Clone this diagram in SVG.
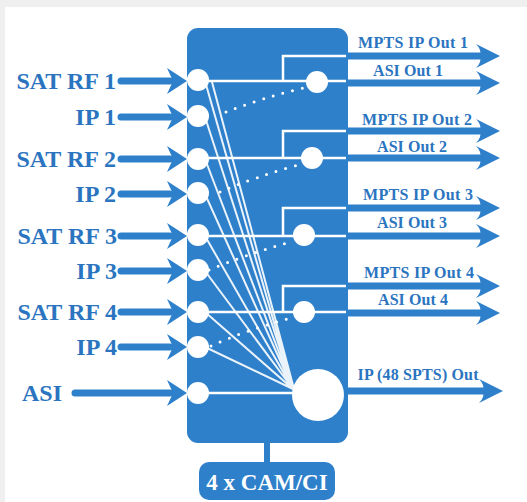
<svg xmlns="http://www.w3.org/2000/svg" width="527" height="502" viewBox="0 0 527 502">
<defs>
<style>
.lbl{font-family:"Liberation Serif","Times New Roman",serif;font-weight:bold;fill:#2b74c0;}
.in{font-size:24px;text-anchor:end;}
.out{font-size:16px;text-anchor:middle;}
.shaft{stroke:#2f80cb;stroke-width:7;stroke-linecap:round;fill:none;}
.head{fill:#2f80cb;}
.wl{stroke:#ffffff;stroke-width:2.5;fill:none;}
.fan{stroke:#ffffff;stroke-width:2;fill:none;opacity:0.9;}
.dot{stroke:#ffffff;stroke-width:3;stroke-linecap:round;stroke-dasharray:0 10;fill:none;}
.c{fill:#ffffff;}
</style>
<path id="ih" d="M0,0 L-20,-13 L-14,0 L-20,13 Z"/>
<path id="oh" d="M0,0 L-24,-12 Q-18,-6 -20,0 Q-18,6 -24,12 Z"/>
</defs>
<rect x="0" y="0" width="527" height="502" fill="#efefef"/>
<rect x="5" y="7" width="522" height="495" fill="#ffffff"/>

<g id="main-box">
<rect x="187" y="28" width="161" height="415" rx="11" fill="#2f80cb"/>
</g>
<g id="cam">
<rect x="264" y="441" width="6" height="23" fill="#2f80cb"/>
<rect x="199" y="462" width="136" height="38" rx="10" fill="#2f80cb"/>
<text x="267" y="490" style="font-family:'Liberation Serif','Times New Roman',serif;font-weight:bold;font-size:23px;fill:#ffffff;text-anchor:middle">4 x CAM/CI</text>
</g>

<g id="connectors">
<!-- inputs -->
<line class="shaft" x1="121" y1="81" x2="170" y2="81"/><use href="#ih" class="head" x="187" y="81"/>
<line class="shaft" x1="121" y1="117" x2="170" y2="117"/><use href="#ih" class="head" x="187" y="117"/>
<line class="shaft" x1="121" y1="159" x2="170" y2="159"/><use href="#ih" class="head" x="187" y="159"/>
<line class="shaft" x1="121" y1="194" x2="170" y2="194"/><use href="#ih" class="head" x="187" y="194"/>
<line class="shaft" x1="121" y1="236" x2="170" y2="236"/><use href="#ih" class="head" x="187" y="236"/>
<line class="shaft" x1="121" y1="271" x2="170" y2="271"/><use href="#ih" class="head" x="187" y="271"/>
<line class="shaft" x1="121" y1="312" x2="170" y2="312"/><use href="#ih" class="head" x="187" y="312"/>
<line class="shaft" x1="121" y1="347" x2="170" y2="347"/><use href="#ih" class="head" x="187" y="347"/>
<line class="shaft" x1="75" y1="393" x2="170" y2="393"/><use href="#ih" class="head" x="187" y="393"/>
<!-- outputs -->
<line class="shaft" x1="348" y1="56" x2="482" y2="56" style="stroke-linecap:butt"/><use href="#oh" class="head" x="500" y="56"/>
<line class="shaft" x1="348" y1="83" x2="482" y2="83" style="stroke-linecap:butt"/><use href="#oh" class="head" x="500" y="83"/>
<line class="shaft" x1="348" y1="131" x2="482" y2="131" style="stroke-linecap:butt"/><use href="#oh" class="head" x="500" y="131"/>
<line class="shaft" x1="348" y1="158" x2="482" y2="158" style="stroke-linecap:butt"/><use href="#oh" class="head" x="500" y="158"/>
<line class="shaft" x1="348" y1="208" x2="482" y2="208" style="stroke-linecap:butt"/><use href="#oh" class="head" x="500" y="208"/>
<line class="shaft" x1="348" y1="236" x2="482" y2="236" style="stroke-linecap:butt"/><use href="#oh" class="head" x="500" y="236"/>
<line class="shaft" x1="348" y1="286" x2="482" y2="286" style="stroke-linecap:butt"/><use href="#oh" class="head" x="500" y="286"/>
<line class="shaft" x1="348" y1="313" x2="482" y2="313" style="stroke-linecap:butt"/><use href="#oh" class="head" x="500" y="313"/>
<line class="shaft" x1="348" y1="391" x2="484" y2="391" style="stroke-linecap:butt"/><use href="#oh" class="head" x="503" y="391"/>

<!-- internal white routing -->
<path class="wl" d="M198,81 H346 M283,81 V56 H346"/>
<path class="wl" d="M198,158 H346 M283,158 V131 H346"/>
<path class="wl" d="M198,236 H346 M283,236 V208 H346"/>
<path class="wl" d="M198,312 H346 M283,312 V286 H346"/>
<path class="wl" d="M198,393 H300"/>
<!-- fan to big circle -->
<path class="fan" d="M205,81 L293,389 M212,82 L294,389 M205,117 L293,389 M205,159 L293,389 M205,194 L293,389 M205,236 L293,389 M205,271 L293,389 M205,312 L293,389 M205,347 L293,389"/>
<!-- dotted -->
<path class="dot" d="M226,112 Q262,98 303,88"/>
<path class="dot" d="M220,192 Q255,177 298,165"/>
<path class="dot" d="M209,270 Q245,255 290,242"/>
<path class="dot" d="M211,346 Q246,330 291,318"/>
</g>

<g id="input-nodes">
<circle class="c" cx="198" cy="80" r="11"/>
<circle class="c" cx="198" cy="116" r="11"/>
<circle class="c" cx="198" cy="159" r="11"/>
<circle class="c" cx="198" cy="193" r="11"/>
<circle class="c" cx="198" cy="235" r="11"/>
<circle class="c" cx="198" cy="270" r="11"/>
<circle class="c" cx="198" cy="312" r="11"/>
<circle class="c" cx="198" cy="347" r="11"/>
<circle class="c" cx="198" cy="393" r="11"/>
</g>
<g id="output-nodes">
<circle class="c" cx="317" cy="82" r="11"/>
<circle class="c" cx="312" cy="158" r="11"/>
<circle class="c" cx="304" cy="235" r="11"/>
<circle class="c" cx="304" cy="312" r="11"/>
<circle class="c" cx="318" cy="395" r="26"/>
</g>

<g id="input-labels">
<text class="lbl in" x="116" y="89">SAT RF 1</text>
<text class="lbl in" x="116" y="125">IP 1</text>
<text class="lbl in" x="116" y="167">SAT RF 2</text>
<text class="lbl in" x="116" y="202">IP 2</text>
<text class="lbl in" x="117" y="244">SAT RF 3</text>
<text class="lbl in" x="117" y="279">IP 3</text>
<text class="lbl in" x="117" y="320">SAT RF 4</text>
<text class="lbl in" x="117" y="355">IP 4</text>
<text class="lbl" x="22" y="401" style="font-size:24px">ASI</text>
</g>
<g id="output-labels">
<text class="lbl out" x="413" y="48" textLength="110">MPTS IP Out 1</text>
<text class="lbl out" x="408" y="76" textLength="70">ASI Out 1</text>
<text class="lbl out" x="417" y="125" textLength="110">MPTS IP Out 2</text>
<text class="lbl out" x="412" y="152" textLength="70">ASI Out 2</text>
<text class="lbl out" x="418" y="200" textLength="110">MPTS IP Out 3</text>
<text class="lbl out" x="412" y="228" textLength="70">ASI Out 3</text>
<text class="lbl out" x="419" y="278" textLength="110">MPTS IP Out 4</text>
<text class="lbl out" x="413" y="305" textLength="70">ASI Out 4</text>
<text class="lbl out" x="418" y="380" textLength="121">IP (48 SPTS) Out</text>
</g>
</svg>
